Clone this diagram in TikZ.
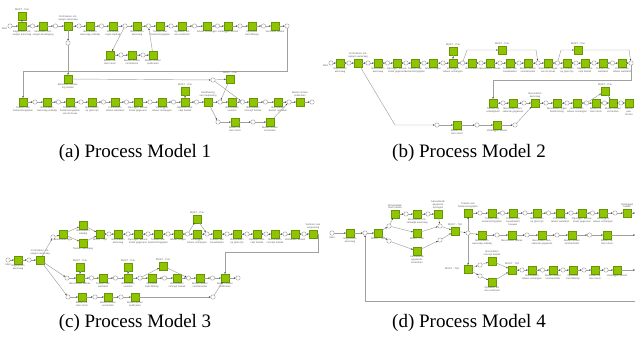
\documentclass[tikz,border=0pt]{standalone}
\usepackage{fontspec}
\setmainfont{Liberation Serif}
\newfontfamily\lblfont{Liberation Sans}
\usetikzlibrary{calc,positioning,arrows.meta}
\definecolor{tgreen}{RGB}{141,198,0}
\definecolor{tborder}{RGB}{105,150,0}
\definecolor{lgray}{RGB}{160,160,160}
\definecolor{tgray}{RGB}{95,95,95}
\tikzset{
 tsk/.style={rectangle,minimum size=8pt,inner sep=0pt,fill=tgreen,draw=tborder,line width=0.3pt},
 plc/.style={circle,minimum size=4.4pt,inner sep=0pt,draw=lgray,fill=white,line width=0.45pt},
 lbl/.style={font=\lblfont\fontsize{2.5}{2.8}\selectfont,text=tgray,align=center,text width=22pt,inner sep=0.3pt},
 conn/.style={draw=lgray,line width=0.45pt,-{Stealth[length=1.7pt,width=1.5pt,color=black!80]}},
 capt/.style={font=\fontsize{19}{22}\selectfont,inner sep=0pt}
}
\newcommand\Row[3]{%
  \foreach \i/\x/\t in {#3}{%
    \node[tsk] (#1\i) at (\x,#2) {};
    \node[lbl,below=0.4pt of #1\i] (#1\i-l) {\t};
    \ifnum\i>1\relax
      \pgfmathtruncatemacro\jj{\i-1}%
      \path ($(#1\jj)!0.5!(#1\i)$) node[plc] (#1p\i) {};
      \draw[conn] (#1\jj) -- (#1p\i);
      \draw[conn] (#1p\i) -- (#1\i);
    \fi
  }}
\newcommand\Tk[4][below]{\node[tsk] (#2) at (#3) {}; \node[lbl,#1=0.4pt of #2] (#2-l) {#4};}
\newcommand\Pc[2]{\node[plc] (#1) at (#2) {};}
\begin{document}
\begin{tikzpicture}[x=1pt,y=-1pt]
\useasboundingbox (0,0) rectangle (635,343);

% ================= (a) =================
\Pc{as}{10,26}
\node[lbl,text width=8pt,anchor=north east] (as-l) at (9,27) {Start};
\Row{a}{26}{1/22/{Registreren ontvangst aanvraag},2/43/{Verzenden ontvangst bevestiging},3/68/{},4/90/{Beoordelen aanvraag volledig},5/113/{Vaststellen leges bedrag},6/137/{Beoordelen aanvraag},7/160/{Toetsen aan bestemmingsplan},8/182/{Opstellen advies welstand},9/207/{Advies ontvangen},10/228/{Vastleggen besluit},11/252/{Opstellen beschikking},12/275/{Versturen besluit}}
\node[lbl,above=0.4pt of a3] (a3-t) {Controleren ontvangen aanvraag};
\draw[conn] (as) -- (a1);
\Pc{ae}{287,26}
\draw[conn] (a12) -- (ae);
\Tk[above]{am}{22,16}{MUST - Pas}
\draw[conn] (am) -- (a1);
\Tk{asa}{110,55}{Besluit nemen intern}
\Pc{asp1}{121,55}
\Tk{asb}{132,55}{Besluit nemen controleren}
\Pc{asp2}{143,55}
\Tk{asc}{153,55}{Besluit nemen publiceren}
\draw[conn] (ap6) -- (asa);
\draw[conn] (asa) -- (asp1);
\draw[conn] (asp1) -- (asb);
\draw[conn] (asb) -- (asp2);
\draw[conn] (asp2) -- (asc);
\draw[conn] (asc) -- (ap7);
\Pc{av}{68,43}
\draw[conn] (a3) -- (av);
\Tk{amon}{68,79}{Monitoren beslissing nemen}
\draw[conn] (av) -- (amon);
\coordinate (alp1) at (287,71);
\coordinate (alp2) at (23,71);
\Row{r}{102}{1/23/{Toetsen aan bestemmings\-plan},2/47/{Beoordelen aanvraag volledig},3/70/{Toetsen aan bestemmingsplan van de bouw},4/92/{Beoordelen op grote lijn},5/115/{Controleren advies welstand},6/138/{Opvragen aanvullende gegevens},7/162/{Vastleggen advies ontvangen},8/185/{Opstellen concept besluit},9/208/{},10/232/{Beoordelen voorstel},11/253/{Beoordelen concept besluit},12/278/{Beoordelen besluit opstellen},13/300/{}}
\node[lbl,above=0.4pt of r9] (r9-t) {Handhaving van toepassing};
\node[lbl,above=0.4pt of r13] (r13-t) {Besluit nemen publiceren};
\draw[conn] (ae) -- (alp1) -- (alp2) -- (r1);
\Pc{re}{312,102}
\draw[conn] (r13) -- (re);
\Tk[above]{rm}{185,91}{MUST - Pas}
\draw[conn] (rm) -- (r8);
\Pc{rx}{213,80}
\Tk[above]{rm2}{230,79}{MUST - Pas}
\draw[conn] (amon) -- (rx);
\draw[conn] (rx) -- (rm2);
\draw[conn] (rx) -- (rp11);
\draw[conn] (rm2) -- (rp10);
\Pc{rl0}{218,122}
\Tk{rla}{235,122}{Besluit nemen intern}
\Pc{rl1}{253,122}
\Tk{rlb}{270,122}{Besluit nemen verzenden}
\draw[conn] (r9) -- (rl0);
\draw[conn] (rl0) -- (rla);
\draw[conn] (rla) -- (rl1);
\draw[conn] (rl1) -- (rlb);
\draw[conn] (rlb) -- (rp13);

% ================= (b) =================
\Pc{bs}{331,63}
\node[lbl,text width=8pt,anchor=north east] (bs-l) at (330,64) {Start};
\Row{b}{63}{1/340/{Registreren aanvraag},2/358/{},3/378/{Beoordelen aanvraag},4/397/{Opvragen aanvullende gegevens},5/415/{Toetsen aan bestemmingsplan},6/433/{Advies vragen},7/453/{Vastleggen advies ontvangen},8/472/{Beoordelen},9/490/{Beoordelen advies},10/510/{Toetsen aan bouwbesluit},11/528/{Besluit nemen voorbereiden},12/548/{Vaststellen leges van de bouw},13/567/{Beoordelen op grote lijn},14/585/{Opstellen concept besluit},15/603/{Toetsen aan welstand},16/622/{Controleren advies welstand}}
\node[lbl,above=0.4pt of b2] (b2-t) {Controleren ontvangen aanvraag};
\draw[conn] (bs) -- (b1);
\Pc{be}{631,63}
\draw[conn] (b16) -- (be);
\Tk[above]{bm}{453,51}{MUST - Pas}
\draw[conn] (bm) -- (b7);
\coordinate (bq1) at (467,50);
\coordinate (bq2) at (536,50);
\Tk[above]{bx1}{502,50}{MUST - Pas}
\draw[conn] (bp8) -- (bq1) -- (bx1);
\draw[conn] (bx1) -- (bq2) -- (bp12);
\coordinate (bq3) at (561,50);
\coordinate (bq4) at (629,50);
\Tk[above]{bx2}{578,50}{MUST - Pas}
\draw[conn] (bp13) -- (bq3) -- (bx2);
\draw[conn] (bx2) -- (bq4) -- (be);
\coordinate (bl1) at (631,80);
\coordinate (bl2) at (493,80);
\Row{bb}{103}{1/493/{Toetsen op volledigheid},2/513/{Beoordelen aanvullende gegevens},3/535/{},4/557/{Beoordelen tegen bestemming},5/577/{Beoordelen advies ontvangen},6/596/{Besluit nemen intern},7/613/{Besluit nemen verzenden},8/629/{}}
\node[lbl,text width=10pt,below=0.4pt of bb8] (bb8-t) {Besluit publiceren};
\node[lbl,above=0.4pt of bb3] (bb3-t) {Beoordelen aanvraag};
\draw[conn] (be) -- (bl1) -- (bl2) -- (bb1);
\Tk[above]{bbm}{605,91}{MUST - Pas}
\draw[conn] (bbp6) -- (bbm);
\draw[conn] (bbm) -- (bb7);
\coordinate (bd1) at (395,125);
\Pc{bd0}{437,125}
\Tk{bda}{457,125}{Besluit nemen intern}
\Pc{bd2}{477,125}
\Tk{bdb}{497,125}{Vastleggen besluit}
\Pc{bd3}{515,125}
\draw[conn] (b2) -- (bd1) -- (bd0);
\draw[conn] (bd0) -- (bda);
\draw[conn] (bda) -- (bd2);
\draw[conn] (bd2) -- (bdb);
\draw[conn] (bdb) -- (bd3);
\draw[conn] (bd3) -- (bb3);

% ================= (c) =================
\Pc{cs}{8,260}
\node[lbl,text width=8pt,anchor=north] (cs-l) at (8,263) {Start};
\Tk{c1}{18,260}{Registreren aanvraag}
\Pc{cp}{29,260}
\Tk[above]{c2}{40,260}{Controleren ontvangen aanvraag}
\draw[conn] (cs) -- (c1);
\draw[conn] (c1) -- (cp);
\draw[conn] (cp) -- (c2);
\Pc{cu0}{53,237}
\Tk{cu1}{63,234}{Beoordelen type}
\Tk{cu2a}{83,225}{Beoordelen volledig}
\Tk{cu2b}{83,243}{Toetsen aanvraag}
\Tk{cu3}{100,234}{MUST - Tijd}
\draw[conn] (c2) -- (cu0);
\draw[conn] (cu0) -- (cu1);
\draw[conn] (cu1) -- (cu2a);
\draw[conn] (cu1) -- (cu2b);
\draw[conn] (cu2a) -- (cu3);
\draw[conn] (cu2b) -- (cu3);
\Row{cr}{234}{1/118/{Beoordelen aanvraag},2/138/{Opvragen aanvullende gegevens},3/158/{Toetsen aan bestemmingsplan},4/178/{Advies vragen},5/197/{Vastleggen advies ontvangen},6/217/{Toetsen aan bouwbesluit},7/237/{Beoordelen op grote lijn},8/257/{Opstellen concept besluit},9/275/{Beoordelen concept besluit},10/295/{Vaststellen besluit},11/313/{}}
\node[lbl,above=0.4pt of cr11] (cr11-t) {Verlenen van vergunning};
\path ($(cu3)!0.5!(cr1)$) node[plc] (crq1) {};
\draw[conn] (cu3) -- (crq1);
\draw[conn] (crq1) -- (cr1);
\Tk[above]{crm}{197,219}{MUST - Pas}
\draw[conn] (crp5) -- (crm);
\draw[conn] (crm) -- (crp6);
\coordinate (cl1) at (318,234);
\coordinate (cl2) at (318,252);
\coordinate (cl3) at (225,252);
\Row{cm}{278}{1/80/{Beoordelen advies},2/103/{Toetsen aan welstand},3/128/{Beoordelen voorstel},4/152/{Opstellen beschikking},5/177/{Beoordelen concept besluit},6/200/{Besluit nemen voorbereiden},7/225/{Besluit nemen publiceren}}
\draw[conn] (cr11) -- (cl1) -- (cl2) -- (cl3) -- (cm7);
\Pc{cm0}{67,278}
\draw[conn] (c2) -- (cm0);
\draw[conn] (cm0) -- (cm1);
\Pc{cme}{238,278}
\draw[conn] (cm7) -- (cme);
\Tk[above]{cmA}{80,267}{MUST - Pas}
\draw[conn] (cmA) -- (cm1);
\Tk[above]{cmB}{128,267}{MUST - Pas}
\draw[conn] (cmB) -- (cm3);
\Tk[above]{cmC}{163,266}{MUST - Pas}
\draw[conn] (cmp4) -- (cmC);
\draw[conn] (cmC) -- (cmp6);
\Pc{cb0}{68,297}
\Tk{cb1}{82,297}{Besluit nemen intern}
\Pc{cbp1}{95,297}
\Tk{cb2}{108,297}{Besluit nemen verzenden}
\Pc{cbp2}{121,297}
\Tk{cb3}{135,297}{Besluit nemen publiceren}
\Pc{cbe}{213,297}
\draw[conn] (c2) -- (cb0);
\draw[conn] (cb0) -- (cb1);
\draw[conn] (cb1) -- (cbp1);
\draw[conn] (cbp1) -- (cb2);
\draw[conn] (cb2) -- (cbp2);
\draw[conn] (cbp2) -- (cb3);
\draw[conn] (cb3) -- (cbe);
\draw[conn] (cbe) -- (cm7);

% ================= (d) =================
\Pc{ds}{332,233}
\node[lbl,text width=8pt,anchor=north] (ds-l) at (332,236) {Start};
\Tk{d1}{350,233}{Registreren aanvraag}
\Pc{dj}{365,233}
\Tk{d2}{378,233}{MUST - Tijd}
\draw[conn] (ds) -- (d1);
\draw[conn] (d1) -- (dj);
\draw[conn] (dj) -- (d2);
\Pc{dc1}{389,226}
\Pc{dc2}{389,241}
\Tk[above]{dg1}{395,214}{Ontvankelijk\-heid toetsen}
\Pc{dgp1}{406,214}
\Tk{dg2}{417,214}{Beoordelen ontvankelijk aanvraag}
\Pc{dgp2}{428,214}
\Tk[above]{dg3}{438,214}{Aanvullende gegevens opvragen}
\Tk{dmid}{417,233}{MUST - Pas}
\Tk{dbt}{417,251}{Aanvullende gegevens verwerken}
\Pc{dc3}{440,226}
\Pc{dc4}{440,240}
\Tk[above]{d3}{455,231}{MUST - Tijd}
\draw[conn] (d2) -- (dc1);
\draw[conn] (d2) -- (dc2);
\draw[conn] (dc1) -- (dg1);
\draw[conn] (dg1) -- (dgp1);
\draw[conn] (dgp1) -- (dg2);
\draw[conn] (dg2) -- (dgp2);
\draw[conn] (dgp2) -- (dg3);
\draw[conn] (dg3) -- (dc3);
\draw[conn] (dc1) -- (dmid);
\draw[conn] (dc2) -- (dbt);
\draw[conn] (dmid) -- (dc3);
\draw[conn] (dbt) -- (dc4);
\draw[conn] (dc3) -- (d3);
\draw[conn] (dc4) -- (d3);
\Pc{dk}{468,233}
\draw[conn] (d3) -- (dk);
\Row{dt}{213}{1/468/{},2/492/{Toetsen aan bestemmingsplan},3/513/{Toetsen aan bouwbesluit bouwen},4/537/{Beoordelen op grote lijn},5/560/{Controleren advies welstand},6/582/{Opvragen aanvullende gegevens},7/603/{Vastleggen advies ontvangen},8/627/{}}
\node[lbl,above=0.4pt of dt1] (dt1-t) {Toetsen aan bestemmingsplan};
\node[lbl,text width=12pt,above=0.4pt of dt8] (dt8-t) {Vastleggen besluit};
\coordinate (dtr) at (635,213);
\draw[conn] (dt8) -- (dtr);
\draw[conn] (dk) -- (dt1);
\Row{dm}{235}{1/482/{Beoordelen aanvraag volledig},2/512/{Beoordelen advies},3/542/{Beoordelen aanvullende gegevens},4/572/{Besluit nemen voorbereiden},5/607/{Besluit nemen intern}}
\draw[conn] (dk) -- (dm1);
\coordinate (dmr) at (635,235);
\draw[conn] (dm5) -- (dmr);
\Tk[left]{dl0}{468,269}{MUST - Tijd}
\draw[conn] (dk) -- (dl0);
\Pc{dlc1}{480,265}
\Pc{dlc2}{480,276}
\Tk[above]{dla}{492,261}{Beoordelen concept besluit}
\Tk{dlb}{492,282}{Opstellen advies welstand}
\Tk[above]{dl3}{512,270}{MUST - Tijd}
\draw[conn] (dl0) -- (dlc1);
\draw[conn] (dlc1) -- (dla);
\draw[conn] (dla) -- (dl3);
\draw[conn] (dl0) -- (dlc2);
\draw[conn] (dlc2) -- (dlb);
\draw[conn] (dlb) -- (dl3);
\Row{dr}{270}{1/532/{Beoordelen advies ontvangen},2/553/{Besluit nemen voorbereiden},3/573/{Opstellen beschikking},4/595/{Besluit nemen intern},5/617/{Vastleggen besluit}}
\path ($(dl3)!0.5!(dr1)$) node[plc] (drq1) {};
\draw[conn] (dl3) -- (drq1);
\draw[conn] (drq1) -- (dr1);
\coordinate (drr) at (635,270);
\draw[conn] (dr5) -- (drr);
\coordinate (dlp1) at (635,301);
\coordinate (dlp2) at (365,301);
\draw[conn] (dlp1) -- (dlp2) -- (dj);

% ================= captions =================
\node[capt] (capa) at (135,153) {(a) Process Model 1};
\node[capt] (capb) at (469,153) {(b) Process Model 2};
\node[capt] (capc) at (135,323) {(c) Process Model 3};
\node[capt] (capd) at (469,323) {(d) Process Model 4};
\end{tikzpicture}
\end{document}
